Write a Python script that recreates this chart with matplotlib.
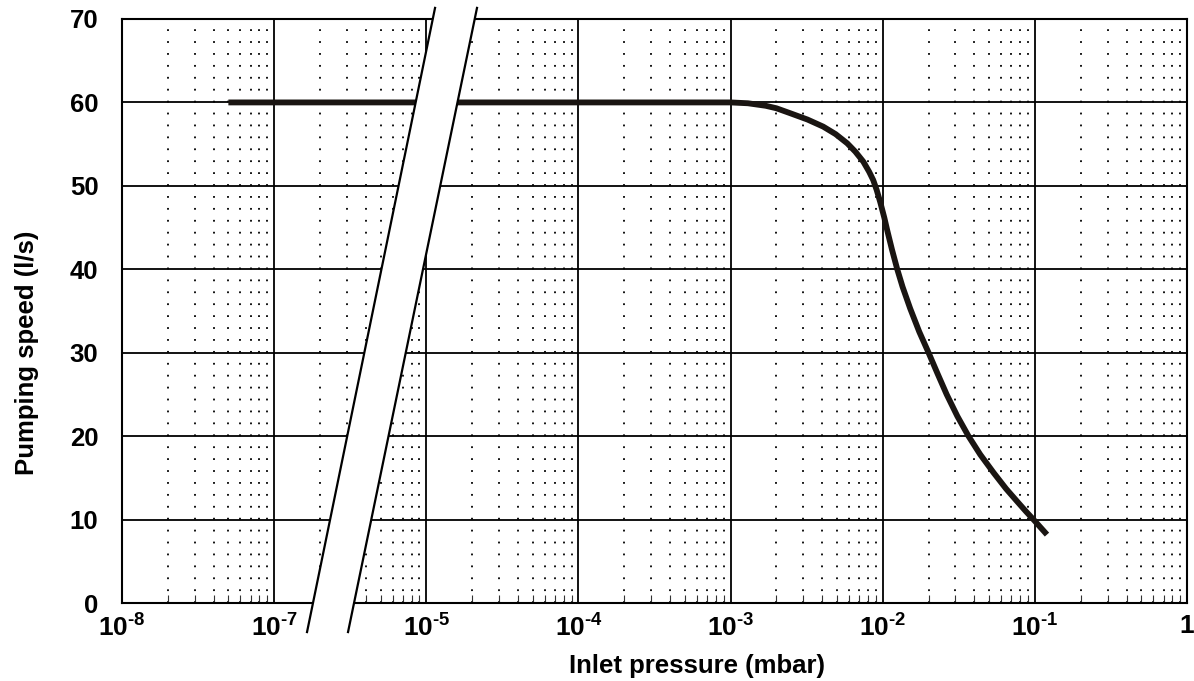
import numpy as np
import matplotlib
matplotlib.use('Agg')
import matplotlib.pyplot as plt
from matplotlib.ticker import FixedLocator, FixedFormatter, NullFormatter
from matplotlib.patches import Polygon

plt.rcParams['font.family'] = ['Liberation Sans', 'DejaVu Sans']
plt.rcParams['font.weight'] = 'bold'
plt.rcParams['mathtext.fontset'] = 'custom'
plt.rcParams['mathtext.rm'] = 'Liberation Sans:bold'
plt.rcParams['mathtext.bf'] = 'Liberation Sans:bold'

# pumping speed curve
pressure = [5e-8, 1e-7, 1e-6, 1e-5, 1e-4, 1e-3, 1.3e-3, 1.7e-3, 2.0e-3, 2.47e-3,
            3.2e-3, 4.06e-3, 4.9e-3, 5.84e-3, 6.6e-3, 7.45e-3, 8.13e-3, 8.65e-3,
            9.12e-3, 9.64e-3, 1.023e-2, 1.072e-2, 1.148e-2, 1.245e-2, 1.349e-2,
            1.514e-2, 1.738e-2, 2.0e-2, 2.29e-2, 2.63e-2, 3.09e-2, 3.66e-2,
            4.37e-2, 5.36e-2, 6.46e-2, 7.62e-2, 8.71e-2, 9.79e-2, 1.2e-1]
speed = [60, 60, 60, 60, 60, 60, 59.9, 59.6, 59.3, 58.7,
         57.95, 57.1, 56.2, 55.1, 54.1, 52.9, 51.7, 50.7,
         49.5, 48.0, 46.2, 44.6, 42.4, 40.0, 37.9,
         35.3, 32.5, 30.0, 27.5, 25.0, 22.4, 20.0,
         17.8, 15.6, 13.7, 12.2, 11.0, 10.0, 8.2]

x_ticks = [1e-8, 1e-7, 1e-5, 1e-4, 1e-3, 1e-2, 1e-1, 1]
x_labels = [r'$\mathbf{10^{\text{-}8}}$', r'$\mathbf{10^{\text{-}7}}$', r'$\mathbf{10^{\text{-}5}}$',
            r'$\mathbf{10^{\text{-}4}}$', r'$\mathbf{10^{\text{-}3}}$', r'$\mathbf{10^{\text{-}2}}$',
            r'$\mathbf{10^{\text{-}1}}$', '1']
y_ticks = [0, 10, 20, 30, 40, 50, 60, 70]
minor_bases = [1e-8, 1e-6, 1e-5, 1e-4, 1e-3, 1e-2, 1e-1]
minor_ticks = [m * b for b in minor_bases for m in range(2, 10)]

# broken log axis: the decade 1e-7..1e-6 is squeezed out
EPS = 1e-9


def fwd(p):
    lp = np.log10(np.clip(np.asarray(p, float), 1e-30, None))
    return np.where(lp <= -7, lp + 8,
                    np.where(lp >= -6, lp + 7 + EPS, 1 + (lp + 7) * EPS))


def inv(d):
    d = np.asarray(d, float)
    with np.errstate(over='ignore', invalid='ignore'):
        return np.where(d <= 1, 10.0 ** (d - 8),
                        np.where(d >= 1 + EPS, 10.0 ** (d - 7 - EPS),
                                 10.0 ** (-7 + (d - 1) / EPS)))


fig = plt.figure(figsize=(11.94, 6.81), dpi=100)
ax = fig.add_axes([0.1022, 0.1145, 0.8920, 0.8576])
ax.set_xscale('function', functions=(fwd, inv))

ax.plot(pressure, speed, color='#1a1512', lw=4.2, solid_capstyle='butt',
        solid_joinstyle='round', zorder=3)

ax.set_xlim(1e-8, 1)
ax.set_ylim(0, 70)
ax.xaxis.set_major_locator(FixedLocator(x_ticks))
ax.xaxis.set_major_formatter(FixedFormatter(x_labels))
ax.xaxis.set_minor_locator(FixedLocator(minor_ticks))
ax.xaxis.set_minor_formatter(NullFormatter())
ax.set_yticks(y_ticks)

ax.tick_params(axis='x', which='major', length=0, pad=8, labelsize=19)
ax.tick_params(axis='x', which='minor', direction='in', length=6, width=0.8, color='#333333')
ax.tick_params(axis='y', length=0, pad=17, labelsize=18.5)

ax.set_axisbelow(True)
ax.grid(True, which='major', color='black', lw=1.3)
ax.grid(True, which='minor', axis='x', color='black', lw=1.3, linestyle=(0, (1, 5.6)))
for s in ax.spines.values():
    s.set_linewidth(1.5)
    s.set_color('black')

# axis break band
band = Polygon([(0.1737, -0.0497), (0.2939, 1.019), (0.3333, 1.019), (0.2122, -0.0497)],
               closed=True, transform=ax.transAxes, facecolor='white', edgecolor='none',
               clip_on=False, zorder=10)
ax.add_patch(band)
ax.plot([0.1737, 0.2939], [-0.0497, 1.019], transform=ax.transAxes, color='black',
        lw=1.6, clip_on=False, zorder=11)
ax.plot([0.2122, 0.3333], [-0.0497, 1.019], transform=ax.transAxes, color='black',
        lw=1.6, clip_on=False, zorder=11)
ax.set_xlim(1e-8, 1)
ax.set_ylim(0, 70)

fig.text(697 / 1194, 1 - 666 / 681, 'Inlet pressure (mbar)', ha='center', va='center',
         fontsize=18.5, fontweight='bold')
fig.text(27 / 1194, 1 - 353 / 681, 'Pumping speed (l/s)', ha='center', va='center',
         rotation=90, fontsize=18.5, fontweight='bold')

fig.savefig('out.png', dpi=100)
